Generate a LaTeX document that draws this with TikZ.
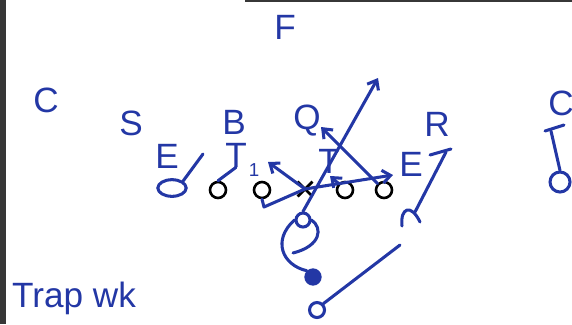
\documentclass[tikz,border=0pt]{standalone}
\usepackage{fontspec}
\setmainfont{Liberation Sans}
\usetikzlibrary{arrows.meta,shapes.misc,shapes.geometric}
\definecolor{penblue}{RGB}{35,55,165}
\definecolor{framegray}{RGB}{55,55,55}

\begin{document}
\begin{tikzpicture}[x=0.03cm,y=-0.03cm,
  pen/.style={penblue,line width=2.6pt,line cap=round,line join=round},
  tip/.style={-{Straight Barb[length=7pt,width=11pt]}},
  lbl/.style={penblue,font=\fontsize{30}{32}\selectfont,inner sep=0pt},
  lineman/.style={circle,draw=black,line width=2.2pt,minimum size=0.48cm,inner sep=0pt},
  back/.style={circle,draw=penblue,line width=2.6pt,minimum size=0.45cm,inner sep=0pt}]
  \useasboundingbox (0,0) rectangle (572,324);
  \clip (0,0) rectangle (572,324);
  \fill[framegray] (0,0) rectangle (6,324);
  \draw[framegray,line width=1.5pt] (245,1) -- (572,1);
  % defence
  \node[lbl] (fs) at (285,27) {F};
  \node[lbl] (cbl) at (46,100) {C};
  \node[lbl] (ss) at (131,123) {S};
  \node[lbl] (bk) at (234,122) {B};
  \node[lbl] (ql) at (307,121) {Q};
  \node[lbl] (rr) at (437,124) {R};
  \node[lbl] (cbr) at (561,103) {C};
  \node[lbl] (del) at (167,156) {E};
  \node[lbl] (dtl) at (236,155) {T};
  \node[penblue,font=\fontsize{16}{18}\selectfont,inner sep=0pt] (num) at (254,170) {1};
  \node[lbl] (dtr) at (329,161) {T};
  \node[lbl] (der) at (411,164) {E};
  \node[lbl,anchor=west] (title) at (12,298) {Trap wk};
  % offence
  \node[lineman] (lt) at (218,190) {};
  \node[lineman] (lg) at (262,190) {};
  \node[cross out,draw=black,line width=2.4pt,minimum size=0.36cm] (ctr) at (305,189) {};
  \node[lineman] (rg) at (345,190) {};
  \node[lineman] (rt) at (384,190) {};
  \node[back,minimum size=0.42cm] (qb) at (303,220) {};
  \node[circle,fill=penblue,minimum size=0.52cm,inner sep=0pt] (hb) at (313,277) {};
  \node[back] (wr) at (317,310) {};
  \node[ellipse,draw=penblue,line width=2.6pt,minimum width=0.85cm,minimum height=0.5cm,inner sep=0pt] (te) at (172,188) {};
  \node[back,minimum size=0.6cm] (rwr) at (560,182) {};
  \coordinate (pullbend) at (264,207);
  \coordinate (pullend) at (393,175);
  \coordinate (ctrend) at (268,162);
  \coordinate (deep) at (378,78);
  \coordinate (rtend) at (321,127);
  \coordinate (rgend) at (330,176);
  \coordinate (teend) at (203,154);
  \coordinate (wrend) at (400,245);
  \coordinate (slot) at (415,212);
  \coordinate (slotend) at (446,152);
  \coordinate (rwrend) at (551,131);
  % routes and blocks
  \draw[pen,tip] (lg.south) -- (pullbend) -- (ctr.center) -- (pullend);
  \draw[pen,tip] (ctr.center) -- (ctrend);
  \draw[pen,tip] (qb.north) -- (deep);
  \draw[pen,tip] (rt.north west) -- (rtend);
  \draw[pen,tip] (rg.north west) -- (rgend);
  \draw[pen] (lt.north) -- (dtl.south);
  \draw[pen] (te.north east) -- (teend);
  \draw[pen] (qb.east) .. controls (323,228) and (321,246) .. (293,253);
  \draw[pen] (qb.west) .. controls (272,240) and (282,265) .. (hb.north west);
  \draw[pen] (wr.north east) -- (wrend);
  \draw[pen] (402,226) .. controls (400,208) and (411,203) .. (420,222);
  \draw[pen] (slot) -- (slotend);
  \draw[pen] (430,155) -- (451,149);
  \draw[pen] (rwr.north) -- (rwrend);
  \draw[pen] (545,131) -- (564,125);
\end{tikzpicture}
\end{document}
